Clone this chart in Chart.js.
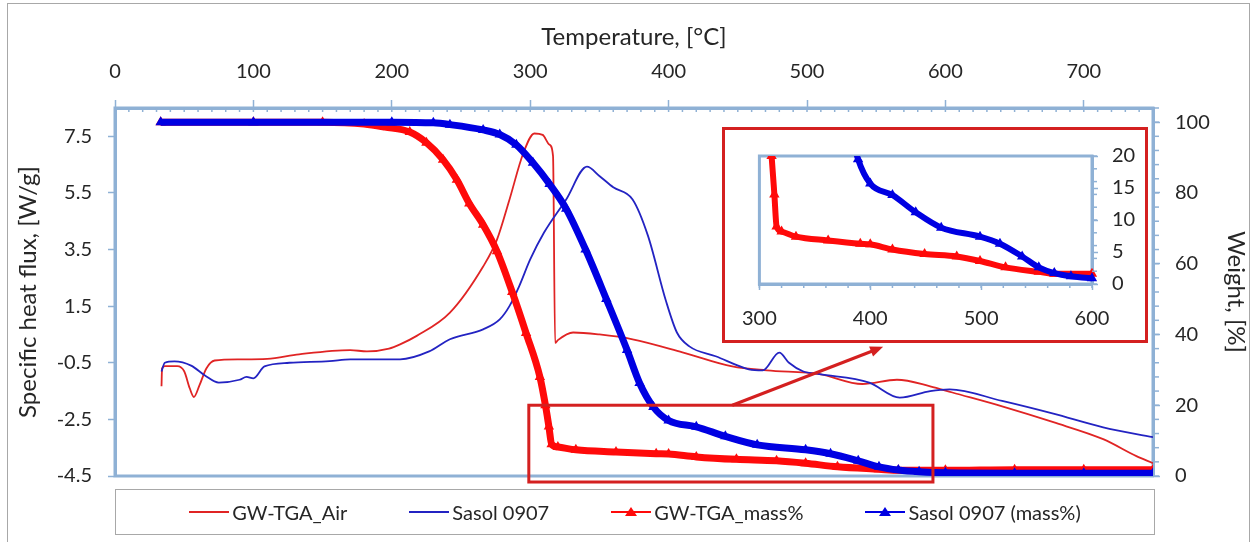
<!DOCTYPE html>
<html lang="en">
<head>
<meta charset="UTF-8">
<title>GW-TGA vs Sasol 0907</title>
<script src="https://cdn.jsdelivr.net/npm/chart.js"></script>
<style>
  body { margin: 0; background: #fff; }
  #wrap { position: relative; width: 1257px; height: 542px; font-family: Lato, sans-serif; overflow: hidden; }
  #frame { position: absolute; left: 7px; top: 3px; width: 1241px; height: 545px; border: 1px solid #a8a8a8; }
  #main { position: absolute; left: 0; top: 0; }
  #inset-box { position: absolute; left: 722px; top: 127px; width: 420px; height: 210px; border: 3px solid #d42020; background: #fff; }
  #inset { display: block; }
  #legend { position: absolute; left: 115px; top: 489px; width: 1038px; height: 44px; border: 1px solid #a8a8a8;
            display: flex; justify-content: center; align-items: center; gap: 62px; font-size: 20px; color: #262626; }
  .item { display: flex; align-items: center; white-space: nowrap; }
  .item svg { margin-right: 3px; }
</style>
</head>
<body>
<div id="wrap">
  <div id="frame"></div>
  <canvas id="main" width="1257" height="542"></canvas>
  <div id="inset-box"><canvas id="inset" width="420" height="210"></canvas></div>
  <div id="legend"></div>
</div>

<script>
// heat flow, W/g (left axis)
const airT    = [33.6, 34, 36, 45, 50, 54, 57, 61, 66, 72, 90, 110, 133, 170, 182, 198, 206, 218, 242, 266, 276, 285, 295, 303, 309, 314, 316.5, 318, 320, 331, 350, 374, 410, 446, 471, 509, 540, 565, 589, 605, 641, 678, 714, 738, 750];
const airFlux = [-1.33, -0.7, -0.62, -0.62, -0.8, -1.4, -1.71, -1.3, -0.7, -0.42, -0.38, -0.36, -0.2, -0.05, -0.1, 0.0, 0.15, 0.45, 1.27, 2.9, 3.85, 5.26, 6.9, 7.6, 7.55, 7.2, 6.8, 0.2, 0.3, 0.57, 0.5, 0.33, -0.13, -0.63, -0.77, -0.9, -1.25, -1.1, -1.33, -1.55, -2.04, -2.6, -3.2, -3.8, -4.05];

const sasolT    = [33.6, 36, 43, 55, 65, 75, 90, 95, 100, 108, 126, 155, 170, 206, 227, 242, 266, 278, 285, 292, 300, 310, 326, 341, 350, 360, 374, 385, 398, 406, 415, 434, 458, 468, 480, 487, 497, 509, 545, 567, 589, 603, 641, 678, 714, 750];
const sasolFlux = [-0.81, -0.5, -0.45, -0.6, -0.95, -1.2, -1.1, -1.0, -1.05, -0.63, -0.5, -0.44, -0.38, -0.38, -0.1, 0.33, 0.68, 1.03, 1.5, 2.2, 3.15, 4.1, 5.27, 6.43, 6.1, 5.7, 5.27, 4.0, 1.7, 0.57, 0.08, -0.27, -0.73, -0.77, -0.14, -0.5, -0.8, -0.9, -1.2, -1.73, -1.5, -1.44, -1.85, -2.3, -2.78, -3.13];

// weight, % (right axis)
const gwMassT = [33, 100, 150, 180, 195, 213, 225, 237, 247, 256, 266, 276, 287, 297, 307, 311, 313.5, 315.5, 320, 333, 362, 391, 400, 420, 449, 478, 499, 522, 552, 566, 600, 650, 700, 750];
const gwMass  = [100, 100, 100, 99.5, 98.6, 97.2, 94.2, 89.4, 83.7, 77, 71, 63.5, 52, 40.4, 28, 20, 14, 9, 8.2, 7.4, 6.8, 6.3, 6.2, 5.4, 4.7, 4.3, 3.6, 2.6, 1.9, 1.6, 1.6, 1.8, 1.8, 1.8];

const sasolMassT = [33, 100, 200, 230, 242, 266, 278, 290, 302, 314, 326, 340, 355, 370, 379, 389, 400, 420, 441, 464, 499, 517, 537, 552, 566, 581, 600, 650, 700, 750];
const sasolMass  = [100, 100, 100, 99.8, 99.3, 97.8, 96.5, 93.6, 88.5, 82.5, 75.5, 64, 50, 35.6, 26.3, 19.5, 15.7, 13.9, 11.2, 8.8, 7.4, 6.3, 4.3, 2.6, 1.7, 1.2, 0.9, 0.8, 0.8, 0.8];

const seriesNames = ['GW-TGA_Air', 'Sasol 0907', 'GW-TGA_mass%', 'Sasol 0907 (mass%)'];

const tempTicks  = [0, 100, 200, 300, 400, 500, 600, 700];
const fluxTicks  = [-4.5, -2.5, -0.5, 1.5, 3.5, 5.5, 7.5];
const massTicks  = [0, 20, 40, 60, 80, 100];
const insetTempTicks = [300, 400, 500, 600];
const insetMassTicks = [0, 5, 10, 15, 20];

const AXIS = '#8fb1d5';
const BOX_RED = '#d42020';
const TEXT = '#262626';
const colors = ['#e02424', '#2323c2', '#ff0a0a', '#0000e2'];
const tickFont = { family: 'Lato', size: 20 };
const titleFont = { family: 'Lato', size: 24 };

const pts = (xs, ys) => xs.map((x, i) => ({ x: x, y: ys[i] }));

function massSet(i, xs, ys, extra) {
    return Object.assign({
        label: seriesNames[i], data: pts(xs, ys), yAxisID: 'yMass',
        borderColor: colors[i], backgroundColor: colors[i], borderWidth: 7,
        pointStyle: 'triangle', pointRadius: 6, pointBorderWidth: 0,
        cubicInterpolationMode: 'monotone', order: 4 - i
    }, extra || {});
}

const fixTicks = list => scale => { scale.ticks = list.map(v => ({ value: v })); };

// border of the plot area, drawn under the series
const framePlugin = {
    id: 'frame',
    beforeDatasetsDraw(chart) {
        const a = chart.chartArea, ctx = chart.ctx;
        ctx.save();
        ctx.strokeStyle = AXIS;
        ctx.lineWidth = 3;
        ctx.strokeRect(a.left, a.top, a.right - a.left, a.bottom - a.top);
        ctx.restore();
    }
};

// small ticks between the labelled ones
const minorTicks = {
    id: 'minorTicks',
    afterDraw(chart, args, opts) {
        const ctx = chart.ctx;
        ctx.save();
        ctx.strokeStyle = AXIS;
        ctx.lineWidth = 1.5;
        opts.list.forEach(m => {
            const s = chart.scales[m.axis];
            for (let v = s.min; v <= s.max + 1e-9; v += m.step) {
                const p = s.getPixelForValue(v);
                const edge = m.edge(s);
                ctx.beginPath();
                if (s.isHorizontal()) { ctx.moveTo(p, edge); ctx.lineTo(p, edge + m.len); }
                else { ctx.moveTo(edge, p); ctx.lineTo(edge + m.len, p); }
                ctx.stroke();
            }
        });
        ctx.restore();
    }
};

// zoom box on the main plot and the arrow to the inset
const zoomMarks = {
    id: 'zoomMarks',
    afterDatasetsDraw(chart) {
        const x = chart.scales.x, y = chart.scales.yMass, ctx = chart.ctx;
        const x0 = x.getPixelForValue(299), x1 = x.getPixelForValue(591);
        const y0 = y.getPixelForValue(20), y1 = y.getPixelForValue(-1.7);
        ctx.save();
        ctx.strokeStyle = BOX_RED;
        ctx.fillStyle = BOX_RED;
        ctx.lineWidth = 3;
        ctx.strokeRect(x0, y0, x1 - x0, y1 - y0);
        const ax = x.getPixelForValue(446), ay = y.getPixelForValue(20);
        const bx = x.getPixelForValue(555), by = y.getPixelForValue(36.5);
        const ang = Math.atan2(by - ay, bx - ax);
        ctx.beginPath();
        ctx.moveTo(ax, ay);
        ctx.lineTo(bx - 8 * Math.cos(ang), by - 8 * Math.sin(ang));
        ctx.stroke();
        ctx.beginPath();
        ctx.moveTo(bx, by);
        ctx.lineTo(bx - 14 * Math.cos(ang - 0.4), by - 14 * Math.sin(ang - 0.4));
        ctx.lineTo(bx - 14 * Math.cos(ang + 0.4), by - 14 * Math.sin(ang + 0.4));
        ctx.closePath();
        ctx.fill();
        ctx.restore();
    }
};

new Chart(document.getElementById('main'), {
    type: 'line',
    data: {
        datasets: [
            { label: seriesNames[0], data: pts(airT, airFlux), yAxisID: 'yFlux', borderColor: colors[0],
              borderWidth: 1.8, pointRadius: 0, cubicInterpolationMode: 'monotone', order: 4 },
            { label: seriesNames[1], data: pts(sasolT, sasolFlux), yAxisID: 'yFlux', borderColor: colors[1],
              borderWidth: 1.8, pointRadius: 0, cubicInterpolationMode: 'monotone', order: 3 },
            massSet(2, gwMassT, gwMass),
            massSet(3, sasolMassT, sasolMass)
        ]
    },
    options: {
        responsive: false,
        animation: false,
        layout: { padding: { left: 7, right: 0, top: 20, bottom: 66 } },
        plugins: {
            legend: { display: false },
            tooltip: { enabled: false },
            minorTicks: { list: [
                { axis: 'x', step: 10, len: 4, edge: s => s.bottom },
                { axis: 'yMass', step: 4, len: 6, edge: s => s.left }
            ] }
        },
        scales: {
            x: {
                type: 'linear', position: 'top', min: 0, max: 750,
                afterBuildTicks: fixTicks(tempTicks),
                afterFit: s => { s.height = 88; },
                title: { display: true, text: 'Temperature, [°C]', font: titleFont, color: TEXT, padding: { top: 3, bottom: 0 } },
                ticks: { font: tickFont, color: TEXT, padding: 16, maxRotation: 0, autoSkip: false },
                grid: { drawOnChartArea: false, tickLength: 8, tickColor: AXIS, tickWidth: 1.5 },
                border: { color: AXIS, width: 3 }
            },
            yFlux: {
                type: 'linear', position: 'left', min: -4.5, max: 8.5,
                afterBuildTicks: fixTicks(fluxTicks),
                afterFit: s => { s.width = 108; },
                title: { display: true, text: 'Specific heat flux, [W/g]', font: titleFont, color: TEXT, padding: { top: 7, bottom: 0 } },
                ticks: { font: tickFont, color: TEXT, padding: 16, autoSkip: false, callback: v => v.toFixed(1) },
                grid: { drawOnChartArea: false, tickLength: 7, tickColor: AXIS, tickWidth: 1.5 },
                border: { color: AXIS, width: 3 }
            },
            yMass: {
                type: 'linear', position: 'right', min: 0, max: 104,
                afterBuildTicks: fixTicks(massTicks),
                afterFit: s => { s.width = 104; },
                title: { display: true, text: 'Weight, [%]', font: titleFont, color: TEXT, padding: { top: 7, bottom: 0 } },
                ticks: { font: tickFont, color: TEXT, padding: 15, autoSkip: false },
                grid: { drawOnChartArea: false, tickLength: 7, tickColor: AXIS, tickWidth: 1.5 },
                border: { color: AXIS, width: 3 }
            }
        }
    },
    plugins: [framePlugin, minorTicks, zoomMarks]
});

// inset: close-up of 300-600 °C, 0-20 %
new Chart(document.getElementById('inset'), {
    type: 'line',
    data: {
        datasets: [
            massSet(2, gwMassT, gwMass, { yAxisID: 'y', borderWidth: 6, clip: { left: 0, top: 0, right: 5, bottom: 6 } }),
            massSet(3, sasolMassT, sasolMass, { yAxisID: 'y', borderWidth: 6, clip: { left: 0, top: 0, right: 5, bottom: 6 } })
        ]
    },
    options: {
        responsive: false,
        animation: false,
        layout: { padding: { left: 24, right: 0, top: 9, bottom: 0 } },
        plugins: {
            legend: { display: false },
            tooltip: { enabled: false },
            minorTicks: { list: [
                { axis: 'x', step: 20, len: 4, edge: s => s.top },
                { axis: 'y', step: 2, len: 5, edge: s => s.left }
            ] }
        },
        scales: {
            x: {
                type: 'linear', position: 'bottom', min: 300, max: 600,
                afterBuildTicks: fixTicks(insetTempTicks),
                afterFit: s => { s.height = 56; },
                ticks: { font: tickFont, color: TEXT, padding: 17, maxRotation: 0, autoSkip: false },
                grid: { drawOnChartArea: false, tickLength: 6, tickColor: AXIS, tickWidth: 1.5 },
                border: { color: AXIS, width: 3 }
            },
            y: {
                type: 'linear', position: 'right', min: 0, max: 20,
                afterBuildTicks: fixTicks(insetMassTicks),
                afterFit: s => { s.width = 53; },
                ticks: { font: tickFont, color: TEXT, padding: 14, autoSkip: false },
                grid: { drawOnChartArea: false, tickLength: 6, tickColor: AXIS, tickWidth: 1.5 },
                border: { color: AXIS, width: 3 }
            }
        }
    },
    plugins: [framePlugin, minorTicks]
});

// legend box under the plot, Excel style (line with marker)
const legendEl = document.getElementById('legend');
seriesNames.forEach((name, i) => {
    const marker = i >= 2
        ? `<polygon points="20,2 26,11 14,11" fill="${colors[i]}"/>`
        : '';
    const item = document.createElement('div');
    item.className = 'item';
    item.innerHTML = `<svg width="40" height="14"><line x1="0" y1="7" x2="40" y2="7" stroke="${colors[i]}" stroke-width="2.2"/>${marker}</svg><span>${name}</span>`;
    legendEl.appendChild(item);
});
</script>
</body>
</html>
